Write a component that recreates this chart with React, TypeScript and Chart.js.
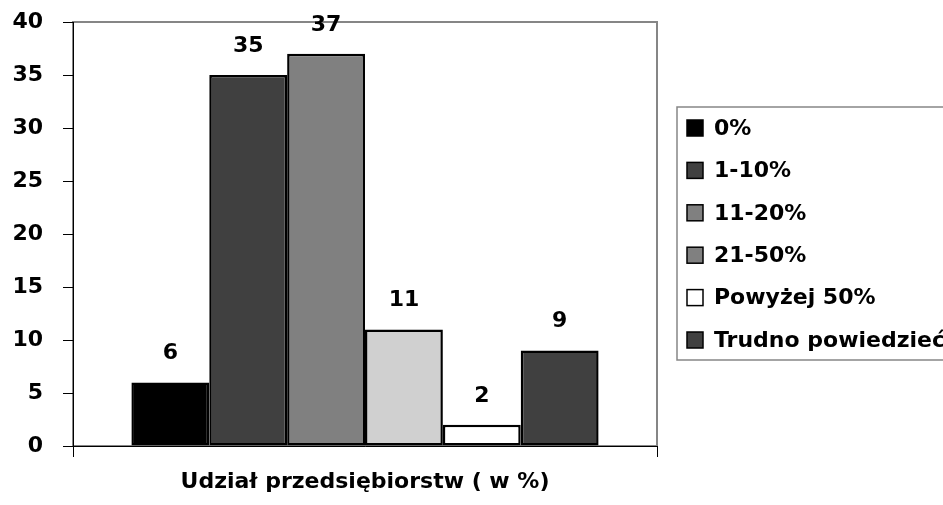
import React, { useEffect, useRef } from "react";
import { Chart, registerables } from "chart.js";

Chart.register(...registerables);

const categories = ["Udział przedsiębiorstw ( w %)"];
const seriesLabels = ["0%", "1-10%", "11-20%", "21-50%", "Powyżej 50%", "Trudno powiedzieć"];
const seriesValues = [6, 35, 37, 11, 2, 9];
const barColors = ["#000000", "#404040", "#808080", "#d0d0d0", "#ffffff", "#404040"];
const legendColors = ["#000000", "#404040", "#808080", "#808080", "#ffffff", "#404040"];
const yMin = 0;
const yMax = 40;
const yStep = 5;

const FONT = "'DejaVu Sans', sans-serif";
const FONT_SIZE = 22;

const plotFrame = {
  id: "plotFrame",
  beforeDraw(chart: any) {
    const { ctx, chartArea } = chart;
    ctx.save();
    ctx.strokeStyle = "#868686";
    ctx.lineWidth = 2;
    ctx.strokeRect(chartArea.left, chartArea.top, chartArea.right - chartArea.left, chartArea.bottom - chartArea.top);
    ctx.restore();
  },
};

const valueLabels = {
  id: "valueLabels",
  afterDatasetsDraw(chart: any) {
    const { ctx } = chart;
    ctx.save();
    ctx.font = `bold ${FONT_SIZE}px ${FONT}`;
    ctx.fillStyle = "#000";
    ctx.textAlign = "center";
    ctx.textBaseline = "middle";
    chart.data.datasets.forEach((ds: any, i: number) => {
      const meta = chart.getDatasetMeta(i);
      meta.data.forEach((bar: any, j: number) => {
        ctx.fillText(String(ds.data[j]), bar.x, bar.y - 29);
      });
    });
    ctx.restore();
  },
};

const boxLegend = {
  id: "boxLegend",
  afterDraw(chart: any) {
    const { ctx, chartArea } = chart;
    const x0 = chartArea.right + 20;
    const y0 = 107;
    const rowStep = 42.4;
    const firstY = 128;
    const sw = 16;
    ctx.save();
    ctx.strokeStyle = "#868686";
    ctx.lineWidth = 1.5;
    ctx.strokeRect(x0, y0, 400, 253);
    ctx.font = `bold ${FONT_SIZE}px ${FONT}`;
    ctx.textAlign = "left";
    ctx.textBaseline = "middle";
    chart.data.datasets.forEach((ds: any, i: number) => {
      const cy = firstY + i * rowStep;
      const sx = x0 + 10;
      ctx.fillStyle = legendColors[i];
      ctx.fillRect(sx, cy - sw / 2, sw, sw);
      ctx.strokeStyle = "#000";
      ctx.lineWidth = 1.5;
      ctx.strokeRect(sx, cy - sw / 2, sw, sw);
      ctx.fillStyle = "#000";
      ctx.fillText(ds.label, sx + sw + 11, cy + 1);
    });
    ctx.restore();
  },
};

export default function App() {
  const canvasRef = useRef<HTMLCanvasElement | null>(null);

  useEffect(() => {
    if (!canvasRef.current) return;
    const chart = new Chart(canvasRef.current, {
      type: "bar",
      data: {
        labels: categories,
        datasets: seriesLabels.map((label, i) => ({
          label,
          data: [seriesValues[i]],
          backgroundColor: barColors[i],
          borderColor: "#000000",
          borderWidth: 2.5,
          borderSkipped: false,
          categoryPercentage: 0.8,
          barPercentage: 1,
        })),
      },
      options: {
        animation: false,
        responsive: true,
        maintainAspectRatio: false,
        layout: { padding: { top: 0, right: 286, bottom: 0, left: 0 } },
        plugins: {
          legend: { display: false },
          tooltip: { enabled: false },
        },
        scales: {
          x: {
            type: "category",
            offset: true,
            grid: { offset: true, drawOnChartArea: false, drawTicks: true, tickLength: 11, color: "#000" },
            border: { color: "#000", width: 1 },
            ticks: {
              color: "#000",
              padding: 12,
              font: { family: FONT, size: FONT_SIZE, weight: "bold" },
            },
            afterFit: (s: any) => {
              s.height = 59;
            },
          },
          y: {
            min: yMin,
            max: yMax,
            grid: { drawOnChartArea: false, drawTicks: true, tickLength: 10, color: "#000" },
            border: { color: "#000", width: 1 },
            ticks: {
              stepSize: yStep,
              color: "#000",
              padding: 20,
              font: { family: FONT, size: FONT_SIZE, weight: "bold" },
            },
            afterFit: (s: any) => {
              s.width = 73;
              s.paddingTop = 22;
              s.paddingBottom = 0;
            },
          },
        },
      },
      plugins: [plotFrame, valueLabels, boxLegend],
    } as any);
    return () => chart.destroy();
  }, []);

  return (
    <div style={{ position: "absolute", left: 0, top: 0, width: 943, height: 505, background: "#fff" }}>
      <canvas ref={canvasRef} />
    </div>
  );
}
